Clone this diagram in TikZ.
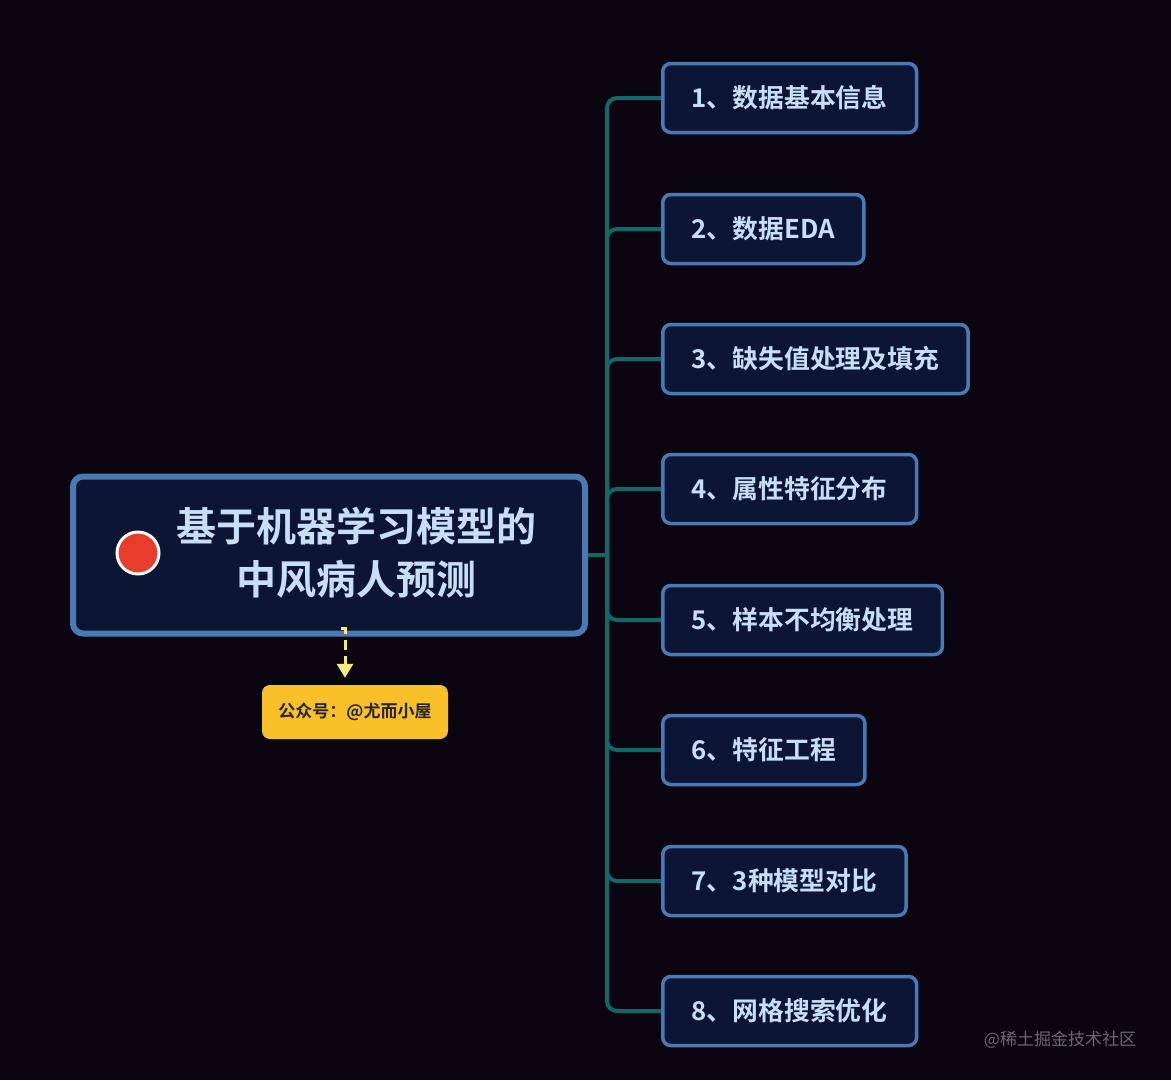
\documentclass[tikz,border=0pt]{standalone}
\usepackage{fontspec}
\usepackage{xcolor}
\usepackage{tikz}
\usetikzlibrary{positioning, arrows.meta}
\newfontfamily\cjk{Noto Sans CJK SC}
\newfontfamily\cjkbold{Noto Sans CJK SC Bold}
\definecolor{bgdark}{RGB}{11,5,16}
\definecolor{boxfill}{RGB}{12,21,52}
\definecolor{boxedge}{RGB}{74,122,181}
\definecolor{boxtext}{RGB}{200,222,246}
\definecolor{trunkteal}{RGB}{13,106,104}
\definecolor{dotred}{RGB}{232,60,45}
\definecolor{noteyellow}{RGB}{250,192,42}
\definecolor{notearrow}{RGB}{246,234,124}
\definecolor{marktext}{RGB}{108,102,114}

\begin{document}
\begin{tikzpicture}[x=1pt, y=-1pt,
    mainbox/.style={rectangle, draw=boxedge, fill=boxfill, line width=6pt, rounded corners=10pt, minimum width=512pt, minimum height=157pt},
    title/.style={align=center, text=boxtext, font=\cjkbold\fontsize{40}{53}\selectfont},
    reddot/.style={circle, draw=white, fill=dotred, line width=3pt, minimum size=42pt, inner sep=0pt},
    branch/.style={rectangle, draw=boxedge, fill=boxfill, line width=3.5pt, rounded corners=8pt, anchor=west, minimum height=69pt, inner xsep=29pt, text=boxtext, font=\cjkbold\fontsize{25.8}{30}\selectfont},
    link/.style={draw=trunkteal, line width=4pt, rounded corners=10pt},
    notebox/.style={rectangle, fill=noteyellow, rounded corners=8pt, minimum width=186pt, minimum height=54pt, text=black!85, font=\cjkbold\fontsize{17}{20}\selectfont},
    note/.style={draw=notearrow, line width=3pt, dash pattern=on 10pt off 6pt, -{Triangle[width=16pt,length=14pt]}}
]
\fill[bgdark] (0,0) rectangle (1171,1080);
\useasboundingbox (0,0) rectangle (1171,1080);

% central topic
\node[mainbox] (main) at (329,555) {};
\node[reddot] (dot) at (138,553) {};
\node[title] (topic) at (356,553) {基于机器学习模型的\\中风病人预测};

% callout
\node[notebox] (call) at (355,712) {公众号：@尤而小屋};
\coordinate (pin) at (341,628);
\draw[note] (pin) -- ++(4,0) -- ([yshift=7pt]call.north -| 345,0);

% branches
\node[branch] (b1) at (661,98) {1、数据基本信息};
\node[branch] (b2) at (661,229) {2、数据EDA};
\node[branch] (b3) at (661,359) {3、缺失值处理及填充};
\node[branch] (b4) at (661,489) {4、属性特征分布};
\node[branch] (b5) at (661,620) {5、样本不均衡处理};
\node[branch] (b6) at (661,750) {6、特征工程};
\node[branch] (b7) at (661,881) {7、3种模型对比};
\node[branch] (b8) at (661,1011) {8、网格搜索优化};

\coordinate (hub) at (607,555);
\draw[link] (main.east) -- (hub);
\foreach \b in {b1,b2,b3,b4,b5,b6,b7,b8}
  \draw[link] (hub) |- (\b.west);

% watermark
\node[text=marktext, font=\cjk\fontsize{17}{20}\selectfont] (mark) at (1060,1040) {@稀土掘金技术社区};
\end{tikzpicture}
\end{document}
